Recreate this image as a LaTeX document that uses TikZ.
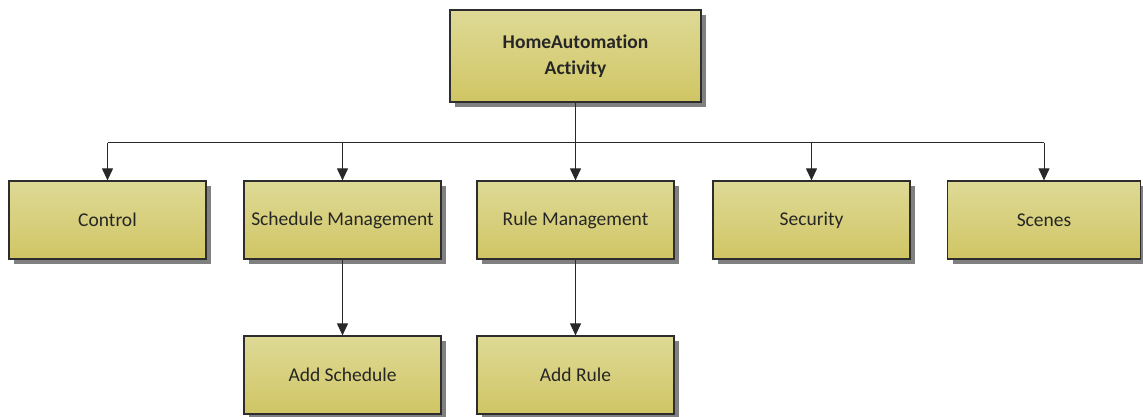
\documentclass[tikz,border=0pt]{standalone}
\usepackage{fontspec}
\setmainfont{Carlito}[Ligatures={NoCommon,NoRare}]
\usetikzlibrary{arrows.meta,shadows}
\definecolor{boxtop}{RGB}{222,218,150}
\definecolor{boxbot}{RGB}{208,197,100}
\definecolor{edge}{RGB}{45,45,45}
\definecolor{wire}{RGB}{40,40,40}
\tikzset{
  block/.style={draw=edge, line width=1.2pt, top color=boxtop, bottom color=boxbot,
    minimum width=197pt, minimum height=78pt, inner sep=0pt,
    font=\fontsize{19.5}{26}\selectfont, text=black!85, align=center,
    drop shadow={shadow xshift=5pt, shadow yshift=-5pt, fill=black!50, opacity=1}},
  link/.style={draw=wire, line width=1pt, -{Triangle[length=12pt,width=11pt]}}
}
\begin{document}
\begin{tikzpicture}[x=1pt,y=-1pt]
\useasboundingbox (0,0) rectangle (1143,417);
% root of the activity tree
\node[block, minimum width=251pt, minimum height=92pt, font=\fontsize{19.5}{26}\selectfont\bfseries]
  (root) at (575.5,56) {HomeAutomation\\Activity};
% first level
\node[block] (control)  at (107.5,220) {Control};
\node[block] (schedule) at (342.5,220) {Schedule Management};
\node[block] (rule)     at (575.5,220) {Rule Management};
\node[block] (security) at (811.5,220) {Security};
\node[block, minimum width=193pt] (scenes) at (1044,220) {Scenes};
% second level
\node[block] (addsched) at (342.5,375) {Add Schedule};
\node[block] (addrule)  at (575.5,375) {Add Rule};
% bus below the root
\coordinate (bus) at (575.5,143);
\draw[draw=wire, line width=1pt] (root.south) -- (bus);
\draw[draw=wire, line width=1pt] (control.north |- bus) -- (scenes.north |- bus);
\foreach \n in {control,schedule,rule,security,scenes}
  \draw[link] (\n.north |- bus) -- (\n.north);
\draw[link] (schedule.south) -- (addsched.north);
\draw[link] (rule.south) -- (addrule.north);
\end{tikzpicture}
\end{document}
